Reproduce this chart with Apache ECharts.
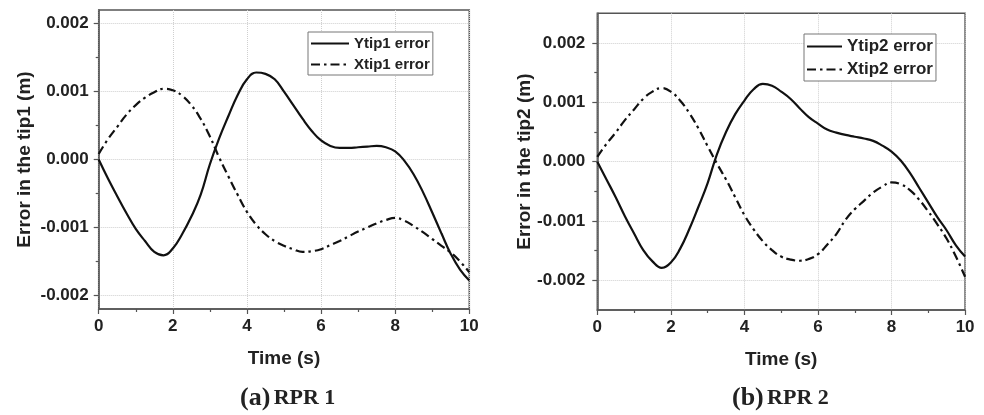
<!DOCTYPE html>
<html><head><meta charset="utf-8">
<script src="https://cdn.jsdelivr.net/npm/echarts@6/dist/echarts.min.js"></script>
<style>html,body{margin:0;padding:0;background:#fff}#c{width:984px;height:415px}</style>
</head><body><div id="c"></div>
<script>
// time (s)
const time = [0,0.25,0.5,0.75,1,1.25,1.5,1.75,2,2.25,2.5,2.75,3,3.25,3.5,3.75,4,4.25,4.5,4.75,5,5.25,5.5,5.75,6,6.25,6.5,6.75,7,7.25,7.5,7.75,8,8.25,8.5,8.75,9,9.25,9.5,9.75,10];
// (a) RPR 1 errors (m)
const ytip1 = [0,-0.00028,-0.00054,-0.00079,-0.00102,-0.0012,-0.00136,-0.00141,-0.00131,-0.0011,-0.00084,-0.00052,-0.00007,0.00031,0.00064,0.00095,0.00118,0.00128,0.00126,0.00118,0.001,0.0008,0.0006,0.00042,0.00028,0.0002,0.00017,0.00017,0.00018,0.00019,0.0002,0.00018,0.00012,-0.00002,-0.00022,-0.00048,-0.00078,-0.00109,-0.00139,-0.00162,-0.00178];
const xtip1 = [0.00008,0.0003,0.00048,0.00066,0.0008,0.00091,0.00099,0.00104,0.00102,0.00094,0.0008,0.0006,0.00034,0.00003,-0.00025,-0.00052,-0.00077,-0.00096,-0.0011,-0.0012,-0.00127,-0.00132,-0.00136,-0.00135,-0.00132,-0.00126,-0.0012,-0.00113,-0.00106,-0.001,-0.00094,-0.00089,-0.00086,-0.0009,-0.00098,-0.00107,-0.00117,-0.00127,-0.00137,-0.0015,-0.00166];
// (b) RPR 2 errors (m)
const ytip2 = [0,-0.0003,-0.0006,-0.00092,-0.00121,-0.00149,-0.00168,-0.00179,-0.0017,-0.00147,-0.00114,-0.00076,-0.00036,0.00012,0.0005,0.0008,0.00103,0.00122,0.00131,0.00128,0.00118,0.00106,0.0009,0.00075,0.00064,0.00054,0.00049,0.00045,0.00042,0.00039,0.00035,0.00027,0.00017,0.00002,-0.00019,-0.00044,-0.00069,-0.00094,-0.00116,-0.00141,-0.0016];
const xtip2 = [0.00008,0.0003,0.00049,0.0007,0.00088,0.00106,0.00118,0.00124,0.00118,0.00103,0.00082,0.00056,0.00026,-0.00003,-0.0003,-0.0006,-0.0009,-0.00114,-0.00134,-0.00149,-0.0016,-0.00165,-0.00167,-0.00164,-0.00156,-0.0014,-0.00122,-0.00098,-0.0008,-0.00066,-0.00052,-0.00042,-0.00035,-0.00038,-0.00048,-0.00064,-0.00084,-0.00106,-0.0013,-0.0016,-0.00194];
const seriesNames = ['Ytip1 error','Xtip1 error','Ytip2 error','Xtip2 error'];
const xTitle = 'Time (s)';
const yTitles = ['Error in the tip1 (m)','Error in the tip2 (m)'];
const yMajorTicks = [-0.002,-0.001,0,0.001,0.002];
const yMinorTicks = [-0.0015,-0.0005,0.0005,0.0015];
const captions = [['(a)','RPR 1'],['(b)','RPR 2']];

const FONT = '"Liberation Sans", Arial, sans-serif';
const SERIF = '"Liberation Serif", "Times New Roman", serif';
const AX = '#555';
const TXT = '#222';
const DASHDOT = [9,4,2.5,4];

function yLabel(v){
  return Math.abs(v)<1e-12 ? '0.000' : v.toFixed(3);
}
function makeX(gi){
  return {type:'value', gridIndex:gi, min:0, max:10, interval:2,
    name:xTitle, nameLocation:'middle', nameGap:40, nameMoveOverlap:false,
    nameTextStyle:{fontFamily:FONT, fontWeight:'bold', fontSize:19, color:TXT},
    axisLine:{show:true, onZero:false, lineStyle:{color:AX, width:1.5}},
    axisTick:{show:true, inside:false, length:5, lineStyle:{color:AX, width:1.2}},
    minorTick:{show:true, splitNumber:2, length:3, lineStyle:{color:AX, width:1.2}},
    axisLabel:{margin:9, fontFamily:FONT, fontWeight:'bold', fontSize:17, color:TXT},
    splitLine:{show:true, lineStyle:{color:'#cfcfcf', type:'dotted', width:1}}
  };
}
function makeY(gi, lim, gap, margin){
  return {type:'value', gridIndex:gi, min:-lim, max:lim, minInterval:0.001, maxInterval:0.001,
    name:yTitles[gi], nameLocation:'middle', nameGap:gap, nameMoveOverlap:false,
    nameTextStyle:{fontFamily:FONT, fontWeight:'bold', fontSize:19, color:TXT},
    axisLine:{show:true, onZero:false, lineStyle:{color:AX, width:1.5}},
    axisTick:{show:true, inside:false, length:5, customValues:yMajorTicks, lineStyle:{color:AX, width:1.2}},
    axisLabel:{margin:margin, customValues:yMajorTicks, formatter:yLabel, fontFamily:FONT, fontWeight:'bold', fontSize:17, color:TXT},
    splitLine:{show:true, lineStyle:{color:'#cfcfcf', type:'dotted', width:1}}
  };
}
function makeYMinor(gi, lim){
  return {type:'value', gridIndex:gi, min:-lim, max:lim, position:'left', minInterval:0.001, maxInterval:0.001,
    axisLine:{show:false, onZero:false},
    axisTick:{show:true, inside:false, length:3, customValues:yMinorTicks, lineStyle:{color:AX, width:1.2}},
    axisLabel:{show:false}, splitLine:{show:false}};
}
function pairs(ys){ return time.map((t,i)=>[t, ys[i]]); }
function line(name, ys, gi, dash){
  return {type:'line', name:name, xAxisIndex:gi, yAxisIndex:gi, data:pairs(ys),
    smooth:0.45, symbol:'none', showSymbol:false, color:'#111',
    lineStyle:{color:'#111', width:2.2, type: dash ? DASHDOT : 'solid'}};
}
function legend(left, top, names, fs, iw, ih, gap){
  return {left:left, top:top, orient:'vertical', data:names,
    itemWidth:iw, itemHeight:ih, itemGap:gap, padding:[4,3,3,2],
    itemStyle:{opacity:0},
    borderColor:'#777', borderWidth:1, backgroundColor:'#fff',
    textStyle:{fontFamily:FONT, fontWeight:'bold', fontSize:fs, color:TXT}};
}
function caption(cx, cap){
  return {type:'text', left: cx, top: 385, style:{
    text:'{p|'+cap[0]+'} {r|'+cap[1]+'}',
    rich:{p:{fontFamily:SERIF, fontWeight:'bold', fontSize:26, fill:TXT},
          r:{fontFamily:SERIF, fontWeight:'bold', fontSize:22, fill:TXT}}}};
}

const chart = echarts.init(document.getElementById('c'));
chart.setOption({
  animation:false,
  backgroundColor:'#fff',
  grid:[
    {left:98.7, top:10, width:370.6, height:299, show:true, borderColor:AX, borderWidth:1.5, outerBoundsMode:'none', containLabel:false},
    {left:597.3, top:13.3, width:367.8, height:296.7, show:true, borderColor:AX, borderWidth:1.5, outerBoundsMode:'none', containLabel:false}
  ],
  xAxis:[makeX(0), makeX(1)],
  yAxis:[makeY(0, 0.0022, 64, 10), makeY(1, 0.0025, 63, 12), makeYMinor(0, 0.0022), makeYMinor(1, 0.0025)],
  legend:[
    legend(308, 32, [seriesNames[0], seriesNames[1]], 15, 38, 14, 6),
    legend(804, 34, [seriesNames[2], seriesNames[3]], 17, 35, 16, 6)
  ],
  series:[
    line(seriesNames[0], ytip1, 0, false),
    line(seriesNames[1], xtip1, 0, true),
    line(seriesNames[2], ytip2, 1, false),
    line(seriesNames[3], xtip2, 1, true)
  ],
  graphic:[caption(240, captions[0]), caption(732, captions[1])]
});
</script></body></html>
